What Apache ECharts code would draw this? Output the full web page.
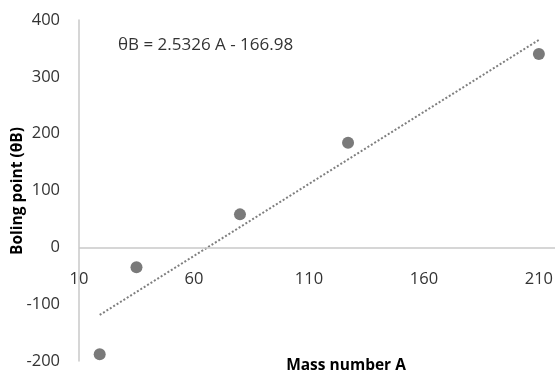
<!DOCTYPE html>
<html><head><meta charset="utf-8">
<script src="https://cdn.jsdelivr.net/npm/echarts@6/dist/echarts.min.js"></script>
<style>html,body{margin:0;padding:0;background:#fff}#c{width:555px;height:373px}</style>
</head><body><div id="c"></div>
<script>
const massNumbers = [19, 35, 80, 127, 210];
const boilingPoints = [-188, -35, 58, 184, 340];
const trendX = [19, 210];
const trendY = [-119, 365];
const xTicks = [10, 60, 110, 160, 210];
const yTicks = [-200, -100, 0, 100, 200, 300, 400];
const equationText = 'θB = 2.5326 A - 166.98';
const xTitle = 'Mass number A';
const yTitle = 'Boling point (θB)';

const font = '"Open Sans", sans-serif';
const chart = echarts.init(document.getElementById('c'));
chart.setOption({
  animation: false,
  grid: {left: 79, right: 0, top: 20, bottom: 12, containLabel: false, outerBoundsMode: 'none'},
  xAxis: {
    type: 'value', min: xTicks[0], max: 217, interval: 50,
    axisLine: {show: false, onZero: false},
    axisTick: {show: false}, splitLine: {show: false},
    axisLabel: {margin: -90, fontSize: 16.5, color: '#333', fontFamily: font, showMaxLabel: false,
      formatter: v => xTicks.includes(v) ? String(v) : ''}
  },
  yAxis: {
    type: 'value', min: yTicks[0], max: yTicks[yTicks.length-1], interval: 100,
    axisLine: {show: true, onZero: false, lineStyle: {color: '#c8c8c8', width: 1.5}},
    axisTick: {show: false}, splitLine: {show: false},
    axisLabel: {margin: 19, fontSize: 16.5, color: '#333', fontFamily: font}
  },
  series: [
    {type: 'line', data: trendX.map((x, i) => [x, trendY[i]]), symbol: 'none',
     lineStyle: {color: '#7f7f7f', width: 2, type: [2, 2]}, z: 2},
    {type: 'scatter', data: massNumbers.map((x, i) => [x, boilingPoints[i]]),
     symbolSize: 12, itemStyle: {color: '#595959'}, z: 3,
     markLine: {silent: true, symbol: 'none', label: {show: false},
       lineStyle: {color: '#c8c8c8', width: 1.5, type: 'solid'}, data: [{yAxis: 0}]}}
  ],
  graphic: [
    {type: 'text', left: 118, top: 37, style: {text: equationText, fontSize: 17, fill: '#333', fontFamily: font}},
    {type: 'text', x: 346, y: 366, style: {text: xTitle, fontSize: 15.5, fontWeight: 'bold', fill: '#000', fontFamily: font, align: 'center', verticalAlign: 'middle'}},
    {type: 'text', x: 18, y: 191, rotation: Math.PI/2, style: {text: yTitle, fontSize: 15.5, fontWeight: 'bold', fill: '#000', fontFamily: font, align: 'center', verticalAlign: 'middle'}}
  ]
});
</script></body></html>
